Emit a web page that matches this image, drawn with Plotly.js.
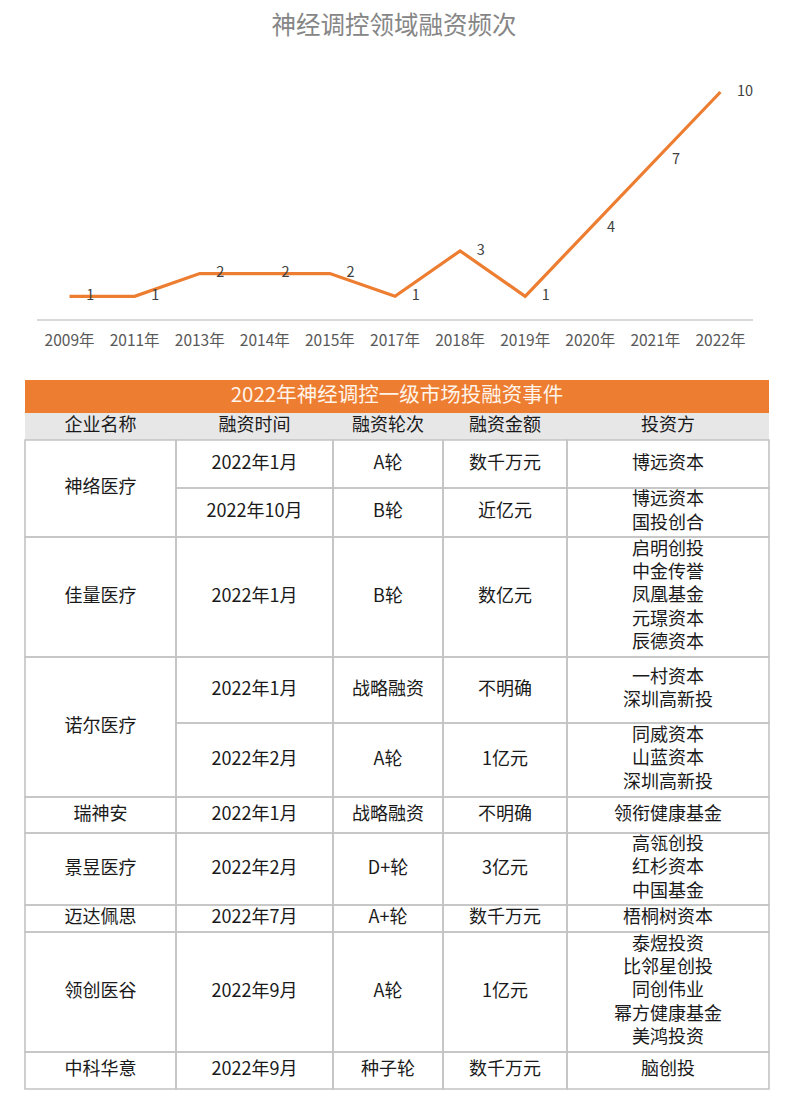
<!DOCTYPE html>
<html>
<head>
<meta charset="utf-8">
<script src="https://cdn.plot.ly/plotly-3.0.1.min.js"></script>
<style>html,body{margin:0;padding:0;background:#fff;}#chart{width:788px;height:1104px;}</style>
</head>
<body>
<div id="chart"></div>
<script>
// ---------- DATA ----------
const chartTitle = '神经调控领域融资频次';
const years = ['2009年','2011年','2013年','2014年','2015年','2017年','2018年','2019年','2020年','2021年','2022年'];
const dealCounts = [1,1,2,2,2,1,3,1,4,7,10];

const tableTitle = '2022年神经调控一级市场投融资事件';
const columns = ['企业名称','融资时间','融资轮次','融资金额','投资方'];
const eventCompany = ['神络医疗','神络医疗','佳量医疗','诺尔医疗','诺尔医疗','瑞神安','景昱医疗','迈达佩思','领创医谷','中科华意'];
const eventDate = ['2022年1月','2022年10月','2022年1月','2022年1月','2022年2月','2022年1月','2022年2月','2022年7月','2022年9月','2022年9月'];
const eventRound = ['A轮','B轮','B轮','战略融资','A轮','战略融资','D+轮','A+轮','A轮','种子轮'];
const eventAmount = ['数千万元','近亿元','数亿元','不明确','1亿元','不明确','3亿元','数千万元','1亿元','数千万元'];
const eventInvestors = [
  ['博远资本'],
  ['博远资本','国投创合'],
  ['启明创投','中金传誉','凤凰基金','元璟资本','辰德资本'],
  ['一村资本','深圳高新投'],
  ['同威资本','山蓝资本','深圳高新投'],
  ['领衔健康基金'],
  ['高瓴创投','红杉资本','中国基金'],
  ['梧桐树资本'],
  ['泰煜投资','比邻星创投','同创伟业','幂方健康基金','美鸿投资'],
  ['脑创投']
];

// ---------- LAYOUT CONSTANTS (sizes / styles) ----------
const W = 788, H = 1104;
const COL_EDGES = [25,176,333,443,567,769];
const TITLE_BAND = [380,413];
const HEAD_BAND = [413,440];
const ROW_H = [48,49,120,66,74,36,72,27,120,37];
const ORANGE = '#ED7D31';
const BORDER = '#C4C4C4';
const FONT = '"Noto Sans CJK SC", "Noto Sans", sans-serif';

// ---------- LINE CHART ----------
const lineTrace = {
  type:'scatter', mode:'lines+markers+text',
  x: years, y: dealCounts,
  text: dealCounts.map(String),
  textposition:'middle right',
  textfont:{family:FONT, size:14.5, color:'#404040'},
  line:{color:ORANGE, width:3.2},
  marker:{size:25, color:'rgba(0,0,0,0)'},
  cliponaxis:false,
  hoverinfo:'skip', xaxis:'x', yaxis:'y', showlegend:false
};

// ---------- TABLE ----------
const colCenters = [];
for (let i=0;i<columns.length;i++) colCenters.push((COL_EDGES[i]+COL_EDGES[i+1])/2);
const rowTop = [];
let yy = HEAD_BAND[1];
for (let i=0;i<ROW_H.length;i++){ rowTop.push(yy); yy += ROW_H[i]; }
const rowBot = rowTop.map((t,i)=>t+ROW_H[i]);

const shapes = [];
shapes.push({type:'rect', xref:'x2', yref:'y2', x0:COL_EDGES[0], x1:COL_EDGES[5], y0:TITLE_BAND[0], y1:TITLE_BAND[1], fillcolor:ORANGE, line:{width:0}, layer:'below'});
shapes.push({type:'rect', xref:'x2', yref:'y2', x0:COL_EDGES[0], x1:COL_EDGES[5], y0:HEAD_BAND[0], y1:HEAD_BAND[1], fillcolor:'#E8E7E7', line:{width:0}, layer:'below'});

const bodyX=[], bodyY=[], bodyT=[];
let i0 = 0;
while (i0 < eventCompany.length){
  let i1 = i0;
  while (i1+1 < eventCompany.length && eventCompany[i1+1] === eventCompany[i0]) i1++;
  const top = rowTop[i0], bot = rowBot[i1];
  shapes.push({type:'rect', xref:'x2', yref:'y2', x0:COL_EDGES[0], x1:COL_EDGES[1], y0:top, y1:bot, line:{color:BORDER, width:1.6}, fillcolor:'rgba(0,0,0,0)'});
  bodyX.push(colCenters[0]); bodyY.push((top+bot)/2); bodyT.push(eventCompany[i0]);
  i0 = i1+1;
}
const cols = [eventDate, eventRound, eventAmount, eventInvestors.map(a=>a.join('<br>'))];
for (let r=0;r<eventCompany.length;r++){
  for (let c=0;c<cols.length;c++){
    shapes.push({type:'rect', xref:'x2', yref:'y2', x0:COL_EDGES[c+1], x1:COL_EDGES[c+2], y0:rowTop[r], y1:rowBot[r], line:{color:BORDER, width:1.6}, fillcolor:'rgba(0,0,0,0)'});
    bodyX.push(colCenters[c+1]); bodyY.push((rowTop[r]+rowBot[r])/2); bodyT.push(cols[c][r]);
  }
}

const titleTrace = {
  type:'scatter', mode:'text', x:[(COL_EDGES[0]+COL_EDGES[5])/2], y:[(TITLE_BAND[0]+TITLE_BAND[1])/2],
  text:[tableTitle], textposition:'middle center',
  textfont:{family:FONT, size:20.5, color:'#FFF4EA'},
  hoverinfo:'skip', xaxis:'x2', yaxis:'y2', showlegend:false, cliponaxis:false
};
const headTrace = {
  type:'scatter', mode:'text', x:colCenters, y:colCenters.map(()=> (HEAD_BAND[0]+HEAD_BAND[1])/2),
  text:columns, textposition:'middle center',
  textfont:{family:FONT, size:18, color:'#1a1a1a'},
  hoverinfo:'skip', xaxis:'x2', yaxis:'y2', showlegend:false, cliponaxis:false
};
const bodyTrace = {
  type:'scatter', mode:'text', x:bodyX, y:bodyY, text:bodyT, textposition:'middle center',
  textfont:{family:FONT, size:18, color:'#1a1a1a'},
  hoverinfo:'skip', xaxis:'x2', yaxis:'y2', showlegend:false, cliponaxis:false
};

// ---------- LAYOUT ----------
const axisBottomPx = 319, unitPx = 22.7, yMax = 11;
const layout = {
  width:W, height:H,
  margin:{l:0,r:0,t:0,b:0},
  paper_bgcolor:'#fff', plot_bgcolor:'rgba(0,0,0,0)',
  font:{family:FONT},
  title:{text:chartTitle, x:0.5, xanchor:'center', y:1-25/H, yanchor:'middle', yref:'container',
         font:{family:FONT, size:24.5, color:'#868686'}},
  xaxis:{domain:[37/W, 753/W], type:'category', range:[-0.5, years.length-0.5], autorange:false,
         showline:true, linecolor:'#D9D9D9', linewidth:1.5,
         showgrid:false, zeroline:false, ticks:'', fixedrange:true,
         tickfont:{family:FONT, size:15.5, color:'#595959'}, ticklabelstandoff:7, anchor:'y'},
  yaxis:{domain:[(H-axisBottomPx)/H, (H-axisBottomPx+yMax*unitPx)/H], range:[0,yMax], visible:false,
         showgrid:false, zeroline:false, fixedrange:true, anchor:'x'},
  xaxis2:{domain:[0,1], range:[0,W], visible:false, showgrid:false, zeroline:false, anchor:'y2', fixedrange:true},
  yaxis2:{domain:[0,1], range:[H,0], visible:false, showgrid:false, zeroline:false, anchor:'x2', fixedrange:true},
  shapes:shapes,
  showlegend:false
};

Plotly.newPlot('chart', [titleTrace, headTrace, bodyTrace, lineTrace], layout, {staticPlot:true, displayModeBar:false});
</script>
</body>
</html>
